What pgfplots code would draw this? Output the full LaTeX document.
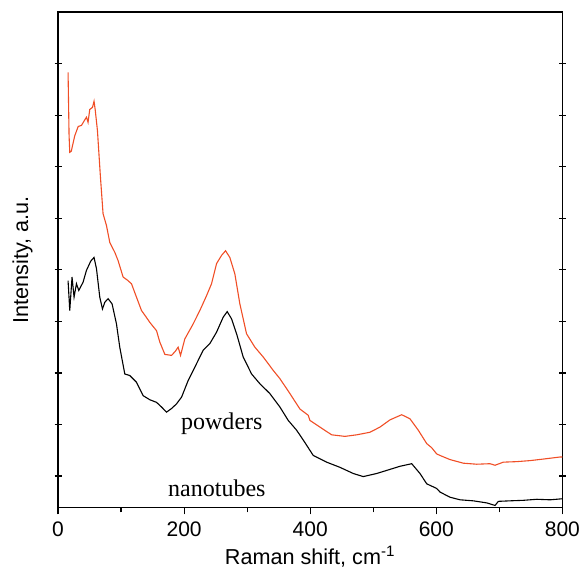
\documentclass[border=0pt]{standalone}
\usepackage{fontspec}
\setmainfont{Liberation Sans}
\newfontfamily\tnr{Liberation Serif}
\usepackage{pgfplots}
\pgfplotsset{compat=1.18}
\definecolor{powred}{RGB}{240,78,38}

\begin{document}
\begin{tikzpicture}
\begin{axis}[
  scale only axis,
  width=252pt, height=247.5pt,
  xmin=0, xmax=800, ymin=-0.607, ymax=9,
  xtick={0,200,400,600,800},
  minor x tick num=1,
  xtick pos=bottom, xtick align=outside,
  ytick={0,...,8}, yticklabels={},
  ytick pos=both, ytick align=center,
  major tick length=3.5pt, minor tick length=2.5pt,
  axis line style={line width=0.75pt},
  every tick/.style={black, line width=0.6pt},
  tick label style={font=\fontsize{10.5}{12}\selectfont},
  /pgf/number format/assume math mode=true,
  label style={font=\fontsize{10.8}{13}\selectfont},
  xlabel={Raman shift, cm\textsuperscript{-1}},
  ylabel={Intensity, a.u.},
  xlabel style={yshift=2pt},
  ylabel style={yshift=0.5pt},
  clip=false,
]
% powders
\addplot[powred, line width=0.55pt] coordinates {
(15.9,7.83)(17.5,6.6)(18.6,6.28)(21,6.3)(26.5,6.60)(32,6.78)(37.1,6.80)(42,6.9)
(45.1,6.96)(47.6,6.86)(50.3,7.11)(54.6,7.15)(57.1,7.27)(59,7.1)(62.5,6.70)(67.3,5.79)
(71.4,5.09)(76.8,4.86)(82.1,4.53)(90.0,4.34)(95.2,4.18)(103.2,3.86)(110,3.80)
(116.5,3.73)(124.4,3.47)(132.4,3.21)(140,3.08)(145.6,2.98)(156.2,2.82)(161.4,2.60)
(169.4,2.36)(175,2.35)(180.0,2.34)(186,2.42)(190.5,2.50)(194.3,2.34)(201.1,2.66)
(214.3,2.95)(224.9,3.21)(235.6,3.50)(243.5,3.73)(251.4,4.12)(259.4,4.28)(265.7,4.37)
(272.5,4.24)(280.5,3.92)(288.4,3.34)(299.0,2.76)(312.2,2.50)(325.4,2.31)(341.3,2.05)
(351.9,1.89)(367.8,1.60)(383.7,1.30)(396.8,1.18)(399.5,1.08)(415.4,0.95)(434.0,0.80)
(455.1,0.77)(473.7,0.80)(494.8,0.85)(510.6,0.95)(526.5,1.09)(545.1,1.19)(558.3,1.11)
(571.4,0.89)(584.8,0.63)(592.7,0.55)(600.6,0.43)(605.9,0.40)(621.7,0.32)(642.9,0.25)
(664.1,0.23)(685.2,0.24)(693.2,0.21)(706.3,0.27)(727.6,0.28)(748.7,0.30)(769.8,0.33)
(796.3,0.37)(800,0.37)
};
% nanotubes
\addplot[black, line width=0.55pt] coordinates {
(15.9,3.79)(18.6,3.21)(22.2,3.86)(25.4,3.47)(29.2,3.73)(32.9,3.60)(39.7,3.76)
(45.1,3.99)(51.9,4.17)(57.1,4.24)(61.0,4.02)(66.2,3.47)(70.5,3.24)(74.1,3.37)
(79.4,3.44)(85.7,3.34)(92.7,2.95)(97.9,2.50)(105.9,1.98)(113.8,1.95)(124.4,1.82)
(134.9,1.56)(145.6,1.48)(156.2,1.43)(164.1,1.34)(172.1,1.24)(180.0,1.31)(187.9,1.40)
(195.9,1.53)(206.3,1.85)(219.7,2.18)(230.2,2.44)(240.8,2.57)(251.4,2.79)(261.9,3.08)
(268.3,3.19)(275.2,3.05)(283.2,2.76)(293.7,2.31)(307.0,1.98)(320.2,1.79)(336.0,1.60)
(351.9,1.34)(365.1,1.08)(378.4,0.89)(390,0.68)(404.8,0.40)(426.0,0.27)(447.1,0.17)
(468.3,0.05)(484.1,-0.01)(505.4,0.05)(521.3,0.11)(542.4,0.19)(561.0,0.24)(574.1,0.05)
(584.8,-0.15)(600.6,-0.24)(605.9,-0.31)(621.7,-0.41)(637.6,-0.46)(658.7,-0.48)
(680.0,-0.52)(693.2,-0.57)(698.4,-0.49)(717.0,-0.48)(738.1,-0.47)(759.4,-0.45)
(780.5,-0.46)(800,-0.44)
};
\node[font=\tnr\fontsize{12}{14}\selectfont] at (axis cs:259.8,1.02) {powders};
\node[font=\tnr\fontsize{12}{14}\selectfont] at (axis cs:251.9,-0.24) {nanotubes};
\end{axis}
\pgfresetboundingbox
\path ([shift={(-29pt,-31.5pt)}]current axis.south west) rectangle ([shift={(10.3pt,6pt)}]current axis.north east);
\end{tikzpicture}
\end{document}
